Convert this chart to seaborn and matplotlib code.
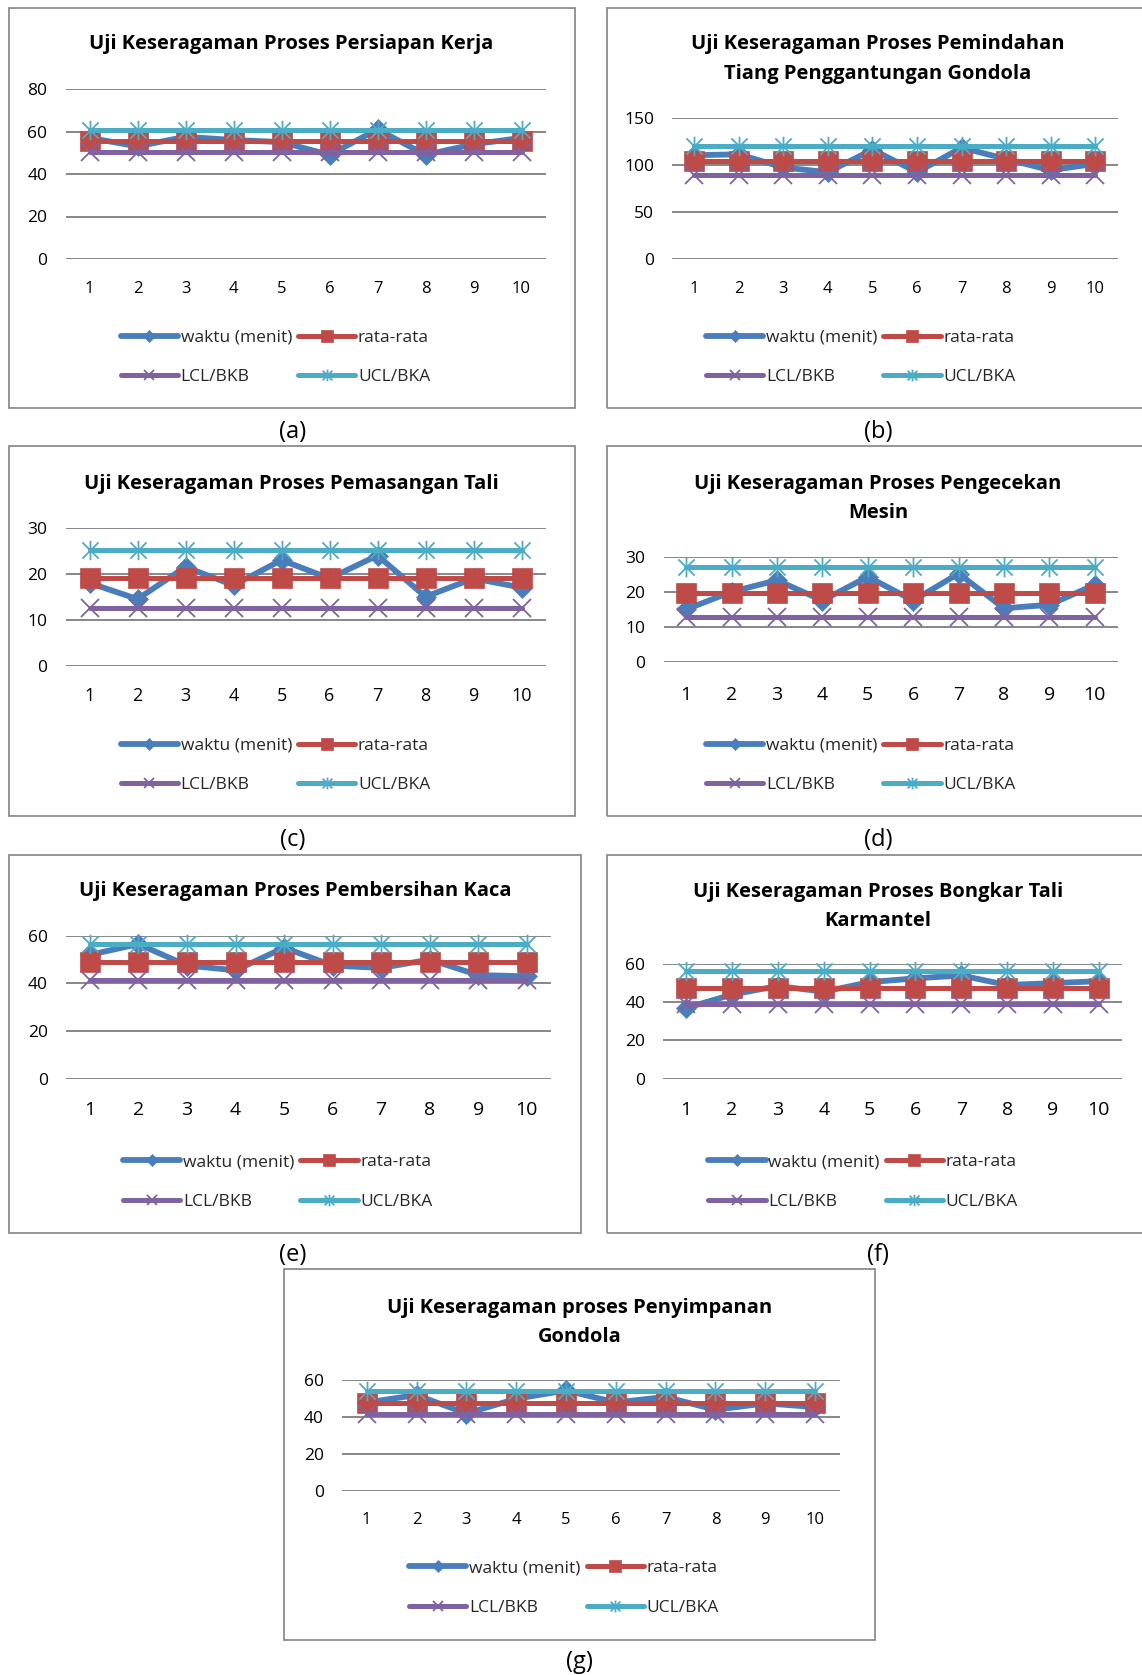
import numpy as np
import pandas as pd
import matplotlib
matplotlib.use("Agg")
import matplotlib.pyplot as plt
import seaborn as sns
from matplotlib.path import Path
from matplotlib.patches import Rectangle

sns.set_theme(style="white")
plt.rcParams["font.family"] = ["Open Sans", "DejaVu Sans"]

# ---------------------------------------------------------------- data
samples = [1, 2, 3, 4, 5, 6, 7, 8, 9, 10]
series_names = ["waktu (menit)", "rata-rata", "LCL/BKB", "UCL/BKA"]

title_a = ["Uji Keseragaman Proses Persiapan Kerja"]
waktu_a = [57, 53, 57.5, 56, 55, 49, 61, 49, 54, 57]
rata_a, lcl_a, ucl_a = 55.3, 50.2, 60.5

title_b = ["Uji Keseragaman Proses Pemindahan", "Tiang Penggantungan Gondola"]
waktu_b = [110, 111, 97, 92, 116, 92, 118, 106, 94, 101]
rata_b, lcl_b, ucl_b = 103.7, 89.5, 119.5

title_c = ["Uji Keseragaman Proses Pemasangan Tali"]
waktu_c = [18, 14.5, 21.5, 17.5, 23, 19, 24, 15, 19, 17]
rata_c, lcl_c, ucl_c = 19.0, 12.6, 25.3

title_d = ["Uji Keseragaman Proses Pengecekan", "Mesin"]
waktu_d = [15, 20, 23.3, 17.5, 24.3, 17.5, 25.2, 15.3, 16.3, 22]
rata_d, lcl_d, ucl_d = 19.7, 12.7, 27.1

title_e = ["Uji Keseragaman Proses Pembersihan Kaca"]
waktu_e = [52, 56.5, 47.5, 45.5, 55, 47.5, 46.5, 50, 43.5, 43]
rata_e, lcl_e, ucl_e = 48.8, 41.3, 56.4

title_f = ["Uji Keseragaman Proses Bongkar Tali", "Karmantel"]
waktu_f = [37, 44, 48.5, 45.5, 50.5, 52.5, 54, 49, 50, 51]
rata_f, lcl_f, ucl_f = 47.6, 39.1, 56.5

title_g = ["Uji Keseragaman proses Penyimpanan", "Gondola"]
waktu_g = [48, 52, 42, 50, 54.5, 48, 51, 44, 47.5, 45.5]
rata_g, lcl_g, ucl_g = 47.7, 41.6, 54.2

y_ticks_a = [0, 20, 40, 60, 80]
y_ticks_b = [0, 50, 100, 150]
y_ticks_c = [0, 10, 20, 30]
y_ticks_d = [0, 10, 20, 30]
y_ticks_e = [0, 20, 40, 60]
y_ticks_f = [0, 20, 40, 60]
y_ticks_g = [0, 20, 40, 60]

# ---------------------------------------------------------------- styles
W, H = 1142, 1675
BLUE, RED, PURPLE, CYAN = "#4A7EBB", "#BE4B48", "#7F63A1", "#4BACC6"
GRID = "#878787"

# asterisk marker: an "x" with a vertical bar through it
star = Path([(-1, -1), (1, 1), (-1, 1), (1, -1), (0, -1.2), (0, 1.2)],
            [Path.MOVETO, Path.LINETO, Path.MOVETO, Path.LINETO,
             Path.MOVETO, Path.LINETO])

line_styles = {
    "waktu": dict(color=BLUE, marker="D", markersize=10, markeredgewidth=0.5, lw=4.2),
    "rata": dict(color=RED, marker="s", markersize=14, markeredgewidth=0.5, lw=3.6),
    "lcl": dict(color=PURPLE, marker="x", markersize=13, markeredgewidth=1.3, lw=3.6),
    "ucl": dict(color=CYAN, marker=star, markersize=14, markeredgewidth=1.3, lw=3.6),
}

# panel geometry in pixels: frame / plot area as (left, top, right, bottom)
layout = {
    "a": dict(frame=(8.5, 7.5, 574.7, 408), plot=(65.5, 89, 545.5, 259),
              title_y=[44], label=(292.7, 432), legend=(120.7, 337.5, 377.5),
              xfs=12, xpad=15.5),
    "b": dict(frame=(606.8, 7.5, 1152, 408), plot=(672, 117.5, 1117.5, 259),
              title_y=[44.5, 73.5], label=(878, 432), legend=(706, 337.5, 377.5),
              xfs=12, xpad=15.5),
    "c": dict(frame=(8.5, 446.5, 574.7, 816.2), plot=(65.5, 528, 545.5, 665.5),
              title_y=[484], label=(292.7, 840), legend=(120.7, 745.5, 785.5),
              xfs=13, xpad=15.5),
    "d": dict(frame=(606.8, 446.5, 1152, 816.2), plot=(663.5, 556.7, 1117.5, 662),
              title_y=[484.5, 512.5], label=(878, 840), legend=(706, 745.5, 785.5),
              xfs=14, xpad=17),
    "e": dict(frame=(8.5, 854.6, 581.2, 1232.8), plot=(65.7, 935.7, 551, 1079),
              title_y=[891], label=(292.7, 1255), legend=(122.9, 1162, 1202),
              xfs=14, xpad=16),
    "f": dict(frame=(606.8, 854.6, 1152, 1232.8), plot=(663.3, 964, 1121.7, 1078.7),
              title_y=[891.5, 920.5], label=(878, 1255), legend=(708.3, 1162, 1202),
              xfs=14, xpad=16),
    "g": dict(frame=(284.2, 1269, 875, 1640), plot=(341.8, 1380.3, 840, 1491),
              title_y=[1307.5, 1336.5], label=(579, 1662), legend=(409.2, 1567.5, 1608.5),
              xfs=12, xpad=15),
}


def fx(x):
    return x / W


def fy(y):
    return 1 - y / H


fig = plt.figure(figsize=(W / 100, H / 100), dpi=100)
fig.patch.set_facecolor("white")


def draw_panel(key, title, waktu, rata, lcl, ucl, yticks):
    spec = layout[key]
    l, t, r, b = spec["frame"]
    fig.add_artist(Rectangle((fx(l), fy(b)), (r - l) / W, (b - t) / H,
                             transform=fig.transFigure, fill=False,
                             edgecolor="#8C8C8C", lw=1.3))
    cx = (l + r) / 2 if r < W else spec["label"][0]
    for line, ty in zip(title, spec["title_y"]):
        fig.text(fx(cx), fy(ty), line, ha="center", va="center",
                 fontsize=14.5, fontweight="bold", color="black")

    pl, pt, pr, pb = spec["plot"]
    ax = fig.add_axes([fx(pl), fy(pb), (pr - pl) / W, (pb - pt) / H])
    df = pd.DataFrame({
        "sampel": samples,
        "waktu": waktu,
        "rata": [rata] * len(samples),
        "lcl": [lcl] * len(samples),
        "ucl": [ucl] * len(samples),
    })
    handles = {}
    for col in ["waktu", "rata", "lcl", "ucl"]:
        st = line_styles[col]
        sns.lineplot(data=df, x="sampel", y=col, ax=ax, color=st["color"],
                     marker=st["marker"], markersize=st["markersize"],
                     markeredgecolor=st["color"], markerfacecolor=st["color"],
                     markeredgewidth=st["markeredgewidth"], lw=st["lw"],
                     solid_capstyle="round", clip_on=False)
        handles[col] = ax.get_lines()[-1]

    ax.set_xlim(0.5, 10.5)
    ax.set_ylim(yticks[0], yticks[-1])
    ax.set_xticks(samples)
    ax.set_yticks(yticks)
    ax.set_xlabel("")
    ax.set_ylabel("")
    sns.despine(ax=ax, left=True, bottom=True, top=True, right=True)
    ax.grid(axis="y", color=GRID, lw=1.4)
    ax.grid(axis="x", visible=False)
    ax.set_axisbelow(True)
    ax.set_facecolor("none")
    ax.tick_params(axis="y", length=0, labelsize=12.5, pad=13, labelcolor="black")
    ax.tick_params(axis="x", length=0, labelsize=spec["xfs"], pad=spec["xpad"],
                   labelcolor="black")

    lx, ly1, ly2 = spec["legend"]
    order = ["waktu", "lcl", "rata", "ucl"]
    names = [series_names[0], series_names[2], series_names[1], series_names[3]]
    ax.legend([handles[k] for k in order], names, ncol=2, loc="center left",
              bbox_to_anchor=(fx(lx), fy((ly1 + ly2) / 2)),
              bbox_transform=fig.transFigure, frameon=False, borderpad=0,
              borderaxespad=0, handlelength=3.3, handletextpad=0.15,
              columnspacing=0.35, labelspacing=1.35, markerscale=0.6,
              fontsize=12.5, numpoints=1)

    fig.text(fx(spec["label"][0]), fy(spec["label"][1]), f"({key})",
             ha="center", va="center", fontsize=17, color="black")


draw_panel("a", title_a, waktu_a, rata_a, lcl_a, ucl_a, y_ticks_a)
draw_panel("b", title_b, waktu_b, rata_b, lcl_b, ucl_b, y_ticks_b)
draw_panel("c", title_c, waktu_c, rata_c, lcl_c, ucl_c, y_ticks_c)
draw_panel("d", title_d, waktu_d, rata_d, lcl_d, ucl_d, y_ticks_d)
draw_panel("e", title_e, waktu_e, rata_e, lcl_e, ucl_e, y_ticks_e)
draw_panel("f", title_f, waktu_f, rata_f, lcl_f, ucl_f, y_ticks_f)
draw_panel("g", title_g, waktu_g, rata_g, lcl_g, ucl_g, y_ticks_g)

fig.savefig("out.png", dpi=100, facecolor="white")
